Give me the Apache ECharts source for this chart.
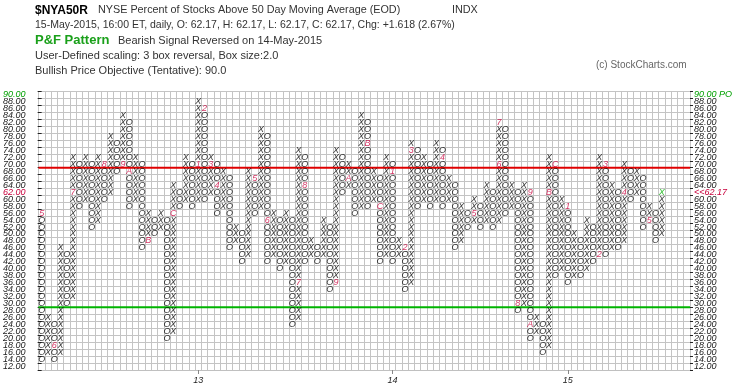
<!DOCTYPE html>
<html><head><meta charset="utf-8">
<script src="https://cdn.jsdelivr.net/npm/echarts/dist/echarts.min.js"></script>
<style>html,body{margin:0;padding:0;background:#fff}#chart{width:745px;height:391px}</style>
</head><body><div id="chart"></div>
<script>
// ---- data ----
const boxLabels = ['12.00','14.00','16.00','18.00','20.00','22.00','24.00','26.00','28.00','30.00',
  '32.00','34.00','36.00','38.00','40.00','42.00','44.00','46.00','48.00','50.00',
  '52.00','54.00','56.00','58.00','60.00','62.00','64.00','66.00','68.00','70.00',
  '72.00','74.00','76.00','78.00','80.00','82.00','84.00','86.00','88.00','90.00'];
// column extents (even columns = O, odd columns = X)
const colLow  = [14,16,14,16,30,32,58,60,52,54, 60,62,68,70,58,60,46,48,50,52,
                 20,22,58,60,58,60,60,62,56,58, 46,48,42,44,56,58,42,44,40,42,
                 24,26,42,44,42,44,34,36,62,64, 56,58,58,60,42,44,42,44,34,36,
                 58,60,58,60,58,60,46,48,52,54, 52,54,52,54,56,58,28,30,20,22,
                 16,18,38,40,36,38,38,40,42,44, 44,46,46,48,60,62,52,54,48,50];
const colHigh = [56,26,24,46,44,72,70,72,70,72, 70,78,76,84,82,72,70,56,54,56,
                 54,64,62,72,70,88,86,72,70,68, 66,52,50,68,66,80,78,56,54,56,
                 54,74,72,48,46,54,52,74,72,70, 68,84,82,68,66,72,70,48,46,76,
                 74,72,70,76,74,66,64,58,56,60, 58,64,62,82,80,64,62,64,62,26,
                 24,72,70,60,58,50,48,54,52,72, 70,64,62,70,68,68,66,58,56,62];
const markCol  = [0,2,5,10,13,14,17,21, 25,26,27,28,34,36,41,42,47,49,52,54, 56,58,59,64,69,73,73,76,78,78,81,82, 84,89,90,93,97];
const markBox  = [56,18,62,70,70,68,48,56, 70,86,70,64,66,54,36,64,36,66,76,58, 68,46,74,72,56,70,82,30,62,24,62,70, 58,44,70,62,54];
const markText = ['5','6','7','8','9','A','B','C', '1','2','3','4','5','6','7','8','9','A','B','C', '1','2','3','4','5','6','7','8','9','A','B','C', '1','2','3','4','5'];
const yearCol  = [25,56,84];
const yearText = ['13','14','15'];
const lastPrice = '62.17';
const objective = 90;
const gridCols = 104;

// ---- build ----
const glyphs = [], marks = [], lastMark = [];
const lastCol = colLow.length - 1;
for (let k = 0; k < colLow.length; k++) {
  const t = (k % 2 === 0) ? 'O' : 'X';
  for (let v = colLow[k]; v <= colHigh[k]; v += 2) {
    let mi = -1;
    for (let m = 0; m < markCol.length; m++) if (markCol[m] === k && markBox[m] === v) mi = m;
    if (mi >= 0) continue;
    if (k === lastCol && v === colHigh[k]) { lastMark.push([k, v, t]); continue; }
    glyphs.push([k, v, t]);
  }
}
for (let m = 0; m < markCol.length; m++) marks.push([markCol[m], markBox[m], markText[m]]);

const FONT = 'Liberation Sans, Arial, sans-serif';
const cats = Array.from({length: gridCols}, (_, i) => String(i));
const chart = echarts.init(document.getElementById('chart'), null, {renderer: 'canvas'});
const glyphSeries = (data, color) => ({type: 'scatter', xAxisIndex: 1, yAxisIndex: 2, data: data,
  symbol: 'rect', symbolSize: 1, itemStyle: {color: 'rgba(255,255,255,0)'}, silent: true, z: 5,
  label: {show: true, position: 'inside', formatter: p => p.data[2],
    color: color, fontSize: 9, fontStyle: 'italic', fontFamily: FONT}});
const axisColor = (v) => v === '90.00' ? '#00a000' : (v === '62.00' ? '#c8003c' : '#222');
chart.setOption({
  animation: false,
  backgroundColor: '#fff',
  grid: {left: 35, right: 55, top: 91, bottom: 21, containLabel: false},
  xAxis: [
    {type: 'category', data: cats, boundaryGap: true,
     axisLine: {show: true, lineStyle: {color: '#c0c0c0'}},
     axisTick: {show: true, alignWithLabel: true, length: 4, interval: (i) => yearCol.indexOf(i) >= 0, lineStyle: {color: '#888'}},
     axisLabel: {show: true, interval: (i) => yearCol.indexOf(i) >= 0, margin: 6,
       formatter: (v, i) => { const j = yearCol.indexOf(i); return j >= 0 ? yearText[j] : ''; },
       fontSize: 9, fontStyle: 'italic', fontFamily: FONT, color: '#222'},
     splitLine: {show: true, interval: 0, lineStyle: {color: '#c4c4c4', width: 1}}},
    {type: 'value', min: -0.5, max: gridCols - 0.5, show: false}
  ],
  yAxis: [
    {type: 'category', data: boxLabels, boundaryGap: true, position: 'left',
     axisLine: {show: false},
     axisTick: {show: true, length: 4, lineStyle: {color: '#222'}},
     axisLabel: {show: true, interval: 0, margin: 13, fontSize: 9, fontStyle: 'italic', fontFamily: FONT,
       color: axisColor},
     splitLine: {show: true, interval: 0, lineStyle: {color: '#c4c4c4', width: 1}}},
    {type: 'category', data: boxLabels, boundaryGap: true, position: 'right',
     axisLine: {show: false},
     axisTick: {show: true, length: 3, lineStyle: {color: '#222'}},
     axisLabel: {show: true, interval: 0, margin: 4, fontSize: 9, fontStyle: 'italic', fontFamily: FONT,
       formatter: (v) => v === '90.00' ? '90.00 PO' : (v === '62.00' ? '<<' + lastPrice : v),
       color: axisColor},
     splitLine: {show: false}},
    {type: 'value', min: 11, max: 91, show: false}
  ],
  series: [
    {type: 'line', xAxisIndex: 1, yAxisIndex: 2, data: [[-0.5, 69], [gridCols - 0.5, 69]],
     symbol: 'none', lineStyle: {color: '#e00000', width: 2}, silent: true, z: 3},
    {type: 'line', xAxisIndex: 1, yAxisIndex: 2, data: [[-0.5, 29], [gridCols - 0.5, 29]],
     symbol: 'none', lineStyle: {color: '#00b400', width: 2}, silent: true, z: 3},
    glyphSeries(glyphs, '#000'),
    glyphSeries(marks, '#c8003c'),
    glyphSeries(lastMark, '#00b000')
  ],
  graphic: [
    {type: 'text', x: 35, y: 10.5, style: {text: '$NYA50R', font: 'bold 12px ' + FONT, fill: '#000', verticalAlign: 'middle'}},
    {type: 'text', x: 98, y: 10.5, style: {text: 'NYSE Percent of Stocks Above 50 Day Moving Average (EOD)', font: '10.8px ' + FONT, fill: '#333', verticalAlign: 'middle'}},
    {type: 'text', x: 452, y: 10.5, style: {text: 'INDX', font: '10.8px ' + FONT, fill: '#333', verticalAlign: 'middle'}},
    {type: 'text', x: 35, y: 25, style: {text: '15-May-2015, 16:00 ET, daily, O: 62.17, H: 62.17, L: 62.17, C: 62.17, Chg: +1.618 (2.67%)', font: '10.5px ' + FONT, fill: '#333', verticalAlign: 'middle'}},
    {type: 'text', x: 35, y: 40.5, style: {text: 'P&F Pattern', font: 'bold 13px ' + FONT, fill: '#1aa01a', verticalAlign: 'middle'}},
    {type: 'text', x: 118, y: 41, style: {text: 'Bearish Signal Reversed on 14-May-2015', font: '11px ' + FONT, fill: '#333', verticalAlign: 'middle'}},
    {type: 'text', x: 35, y: 56, style: {text: 'User-Defined scaling: 3 box reversal, Box size:2.0', font: '11px ' + FONT, fill: '#333', verticalAlign: 'middle'}},
    {type: 'text', x: 35, y: 70.5, style: {text: 'Bullish Price Objective (Tentative): ' + objective.toFixed(1), font: '11px ' + FONT, fill: '#333', verticalAlign: 'middle'}},
    {type: 'text', x: 596, y: 65, style: {text: '(c) StockCharts.com', font: '10px ' + FONT, fill: '#666', verticalAlign: 'middle'}}
  ]
});
</script></body></html>
